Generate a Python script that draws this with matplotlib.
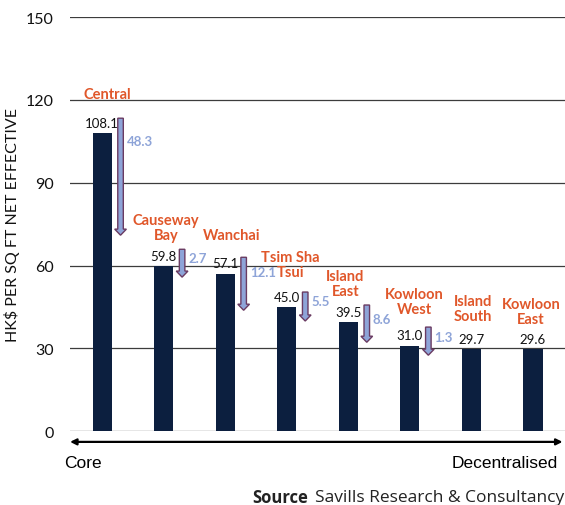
import matplotlib.pyplot as plt
from matplotlib.patches import FancyArrow

districts = ['Central', 'Causeway\nBay', 'Wanchai', 'Tsim Sha\nTsui', 'Island\nEast',
             'Kowloon\nWest', 'Island\nSouth', 'Kowloon\nEast']
rents = [108.1, 59.8, 57.1, 45.0, 39.5, 31.0, 29.7, 29.6]
# rent gap to next location (arrows are drawn schematically, not to scale)
gaps = [48.3, 2.7, 12.1, 5.5, 8.6, 1.3]
arrow_top = [113.4, 65.9, 63.0, 50.4, 45.7, 37.7]
arrow_end = [71.0, 55.8, 43.8, 39.9, 32.2, 27.5]
yticks = [0, 30, 60, 90, 120, 150]

navy = '#0c1f3f'
orange = '#e0572a'
lblue = '#8ea4d8'

fig = plt.figure(figsize=(5.65, 5.06), dpi=100)
ax = fig.add_axes([0.124, 0.146, 0.876, 0.818])

x = range(len(districts))
ax.bar(x, rents, width=0.31, color=navy, zorder=3)

ax.set_xlim(-0.52, 7.52)
ax.set_ylim(0, 150)
ax.set_yticks(yticks)
ax.set_yticklabels([str(v) for v in yticks], fontsize=11.5, fontfamily='Lato', color='#111111')
ax.set_xticks([])
ax.tick_params(axis='y', length=0, pad=12)
for s in ax.spines.values():
    s.set_visible(False)
for v in yticks:
    ax.axhline(v, color='#3c3c3c', lw=0.9, zorder=1)
ax.set_ylabel('HK$ PER SQ FT NET EFFECTIVE', fontsize=11.5, fontfamily='Lato',
              color='#111111', labelpad=4)

# value labels
for i, v in enumerate(rents):
    ax.annotate(f'{v:.1f}', (i, v), xytext=(0, 3), textcoords='offset points',
                ha='center', va='bottom', fontsize=9.5, fontfamily='Lato', color='#111111')

# district names, one text per line
name_y = [122.1, 73.9, 71, 60.3, 53.6, 47.1, 44.4, 43.5]
name_dx = [0.08, 0.04, 0.1, 0.06, -0.05, 0.07, 0.03, -0.03]
line_step = 5.4
for i, n in enumerate(districts):
    lines = n.split('\n')
    y0 = name_y[i] + line_step * (len(lines) - 1) / 2
    for k, ln in enumerate(lines):
        ax.text(i + name_dx[i], y0 - k * line_step, ln, ha='center', va='center',
                fontsize=10.5, fontweight='bold', fontfamily='Lato', color=orange)

# gap arrows
gap_label_y = [105.1, 62.7, 57.6, 47.1, 40.6, 34.1]
for i, g in enumerate(gaps):
    ax_x = i + 0.3
    top, end = arrow_top[i], arrow_end[i]
    ax.add_patch(FancyArrow(ax_x, top, 0, end - top, width=0.09, head_width=0.19,
                            head_length=2.2, length_includes_head=True,
                            facecolor=lblue, edgecolor='#6a3b62', lw=1.0, zorder=4))
    ax.text(ax_x + 0.1, gap_label_y[i], f'{g:.1f}', ha='left', va='center',
            fontsize=9.5, fontweight='bold', fontfamily='Lato', color=lblue)

# core -> decentralised axis
ax.annotate('', xy=(0.995, -0.026), xytext=(0.0, -0.026), xycoords='axes fraction',
            arrowprops=dict(arrowstyle='<|-|>', color='black', lw=1.6,
                            mutation_scale=9, shrinkA=0, shrinkB=0),
            annotation_clip=False)
fig.text(64 / 565, 1 - 463 / 506, 'Core', ha='left', va='center', fontsize=12.5,
         fontfamily='Liberation Sans')
fig.text(558 / 565, 1 - 463 / 506, 'Decentralised', ha='right', va='center',
         fontsize=12.5, fontfamily='Liberation Sans')

fig.text(252 / 565, 1 - 498 / 506, 'Source', ha='left', va='center', fontsize=12,
         fontweight='bold', fontfamily='Open Sans', color='#222222')
fig.text(315 / 565, 1 - 498 / 506, 'Savills Research & Consultancy', ha='left',
         va='center', fontsize=12.5, fontfamily='Open Sans', color='#222222')

fig.savefig('out.png', dpi=100)
